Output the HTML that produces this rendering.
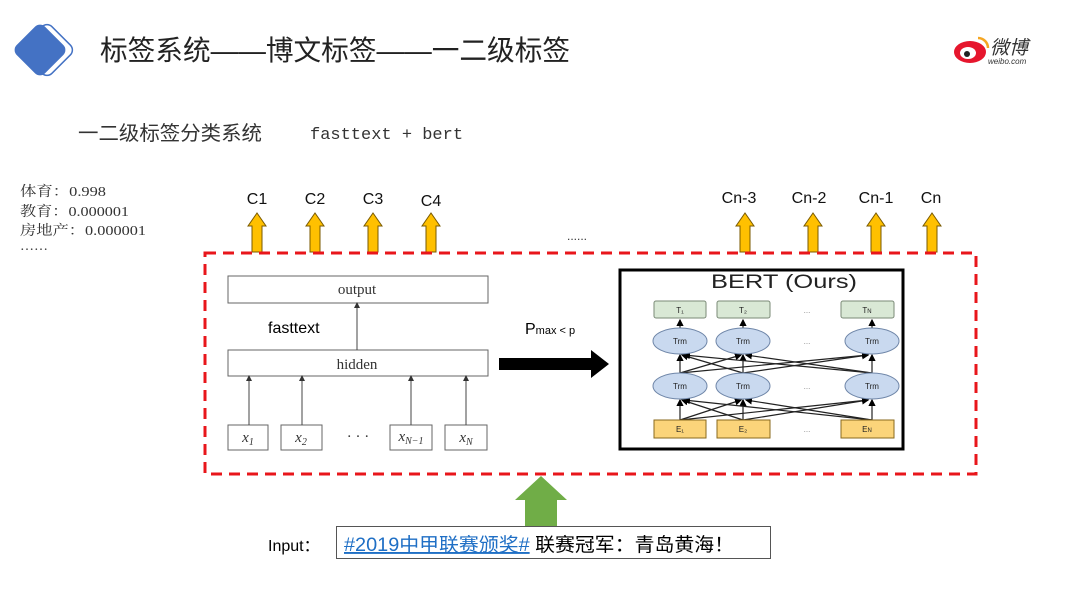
<!DOCTYPE html>
<html><head><meta charset="utf-8"><style>
body{margin:0;background:#fff;width:1080px;height:602px;overflow:hidden}
</style></head><body>
<svg width="1080" height="602" viewBox="0 0 1080 602" xmlns="http://www.w3.org/2000/svg">
<defs>
<marker id="sa" markerWidth="6" markerHeight="6" refX="3" refY="3" orient="auto"><path d="M0,0L6,3L0,6z" fill="#333"/></marker>
<marker id="ba" markerWidth="6" markerHeight="6" refX="5" refY="3" orient="auto"><path d="M0,0L6,3L0,6z" fill="#000"/></marker>
</defs>
<rect x="27" y="30" width="40" height="40" rx="7" transform="rotate(45 47 50)" fill="#fff" stroke="#4472c4" stroke-width="1.5"/>
<rect x="20" y="30" width="40" height="40" rx="7" transform="rotate(45 40 50)" fill="#4472c4"/>
<text x="100" y="60" font-family="Liberation Sans,'Noto Sans CJK SC',sans-serif" font-size="28" fill="#222" textLength="470" lengthAdjust="spacingAndGlyphs">标签系统——博文标签——一二级标签</text>
<ellipse cx="970" cy="52" rx="16" ry="11" fill="#e6162d"/>
<ellipse cx="968" cy="53" rx="8" ry="6" fill="#fff"/>
<circle cx="967" cy="54" r="3" fill="#222"/>
<path d="M978 38 a10 10 0 0 1 10 10" stroke="#f5a623" stroke-width="2.5" fill="none"/>
<text x="990" y="54" font-family="'Noto Sans CJK SC',sans-serif" font-size="19" font-style="italic" fill="#333">微博</text>
<text x="988" y="64" font-family="Liberation Sans,sans-serif" font-size="8" font-style="italic" fill="#333">weibo.com</text>
<text x="78" y="140" font-family="'Noto Sans CJK SC',sans-serif" font-size="20" fill="#333" textLength="184" lengthAdjust="spacingAndGlyphs">一二级标签分类系统</text>
<text x="310" y="139" font-family="Liberation Mono,monospace" font-size="17" fill="#333">fasttext + bert</text>
<g font-family="Liberation Serif,'Noto Serif CJK SC',serif" font-size="14" fill="#333">
<text x="20" y="196" textLength="86" lengthAdjust="spacingAndGlyphs">体育：0.998</text>
<text x="20" y="216" textLength="109" lengthAdjust="spacingAndGlyphs">教育：0.000001</text>
<text x="20" y="235" textLength="126" lengthAdjust="spacingAndGlyphs">房地产：0.000001</text>
<text x="20" y="250">……</text>
</g>
<g font-family="Liberation Sans,sans-serif" font-size="16" fill="#111" text-anchor="middle">
<text x="257" y="204">C1</text><text x="315" y="204">C2</text><text x="373" y="204">C3</text><text x="431" y="206">C4</text>
<text x="739" y="203">Cn-3</text><text x="809" y="203">Cn-2</text><text x="876" y="203">Cn-1</text><text x="931" y="203">Cn</text>
</g>
<text x="567" y="240" font-family="Liberation Sans,sans-serif" font-size="12" fill="#333">......</text>
<g fill="#ffc000" stroke="#7a5a00" stroke-width="1">
<path d="M252 252V226H248L257 213L266 226H262V252Z"/>
<path d="M310 252V226H306L315 213L324 226H320V252Z"/>
<path d="M368 252V226H364L373 213L382 226H378V252Z"/>
<path d="M426 252V226H422L431 213L440 226H436V252Z"/>
<path d="M740 252V226H736L745 213L754 226H750V252Z"/>
<path d="M808 252V226H804L813 213L822 226H818V252Z"/>
<path d="M871 252V226H867L876 213L885 226H881V252Z"/>
<path d="M927 252V226H923L932 213L941 226H937V252Z"/>
</g>
<rect x="205" y="253" width="771" height="221" fill="none" stroke="#e8161b" stroke-width="3" stroke-dasharray="11,7"/>
<g stroke="#666" fill="#fff" stroke-width="1">
<rect x="228" y="276" width="260" height="27"/>
<rect x="228" y="350" width="260" height="26"/>
<rect x="228" y="425" width="40" height="25"/><rect x="281" y="425" width="41" height="25"/>
<rect x="390" y="425" width="42" height="25"/><rect x="445" y="425" width="42" height="25"/>
</g>
<g stroke="#444" stroke-width="1" marker-end="url(#sa)">
<line x1="357" y1="350" x2="357" y2="305"/>
<line x1="249" y1="425" x2="249" y2="378"/><line x1="302" y1="425" x2="302" y2="378"/>
<line x1="411" y1="425" x2="411" y2="378"/><line x1="466" y1="425" x2="466" y2="378"/>
</g>
<g font-family="Liberation Serif,serif" font-size="15" fill="#333" text-anchor="middle">
<text x="357" y="294">output</text><text x="357" y="369">hidden</text>
<text x="248" y="442" font-style="italic">x<tspan font-size="10" dy="3">1</tspan></text>
<text x="301" y="442" font-style="italic">x<tspan font-size="10" dy="3">2</tspan></text>
<text x="358" y="441">· · ·</text>
<text x="411" y="441" font-style="italic">x<tspan font-size="10" dy="3">N−1</tspan></text>
<text x="466" y="442" font-style="italic">x<tspan font-size="10" dy="3">N</tspan></text>
</g>
<text x="268" y="333" font-family="Liberation Sans,sans-serif" font-size="16" fill="#000">fasttext</text>
<text x="525" y="334" font-family="Liberation Sans,sans-serif" font-size="16" fill="#000">P<tspan font-size="11">max &lt; p</tspan></text>
<path d="M499 358H591V350L609 364L591 378V370H499Z" fill="#000"/>
<rect x="620" y="270" width="283" height="179" fill="#fff" stroke="#000" stroke-width="3"/>
<text x="711" y="288" font-family="Liberation Sans,sans-serif" font-size="19" fill="#222" textLength="146" lengthAdjust="spacingAndGlyphs">BERT (Ours)</text>
<g stroke="#222" stroke-width="1.2" marker-end="url(#ba)">
<line x1="680" y1="420" x2="680" y2="400"/><line x1="743" y1="420" x2="743" y2="400"/><line x1="872" y1="420" x2="872" y2="400"/>
<line x1="680" y1="420" x2="741" y2="400"/><line x1="680" y1="420" x2="868" y2="400"/>
<line x1="743" y1="420" x2="682" y2="400"/><line x1="743" y1="420" x2="868" y2="400"/>
<line x1="872" y1="420" x2="684" y2="400"/><line x1="872" y1="420" x2="746" y2="400"/>
<line x1="680" y1="373" x2="680" y2="355"/><line x1="743" y1="373" x2="743" y2="355"/><line x1="872" y1="373" x2="872" y2="355"/>
<line x1="680" y1="373" x2="741" y2="355"/><line x1="680" y1="373" x2="868" y2="355"/>
<line x1="743" y1="373" x2="682" y2="355"/><line x1="743" y1="373" x2="868" y2="355"/>
<line x1="872" y1="373" x2="684" y2="355"/><line x1="872" y1="373" x2="746" y2="355"/>
<line x1="680" y1="328" x2="680" y2="320"/><line x1="743" y1="328" x2="743" y2="320"/><line x1="872" y1="328" x2="872" y2="320"/>
</g>
<g fill="#d9e8d5" stroke="#7a8a76"><rect x="654" y="301" width="52" height="17" rx="2"/><rect x="717" y="301" width="53" height="17" rx="2"/><rect x="841" y="301" width="53" height="17" rx="2"/></g>
<g fill="#c9d9ef" stroke="#6f86a8"><ellipse cx="680" cy="341" rx="27" ry="13"/><ellipse cx="743" cy="341" rx="27" ry="13"/><ellipse cx="872" cy="341" rx="27" ry="13"/>
<ellipse cx="680" cy="386" rx="27" ry="13"/><ellipse cx="743" cy="386" rx="27" ry="13"/><ellipse cx="872" cy="386" rx="27" ry="13"/></g>
<g fill="#fbd47a" stroke="#8a6a1e"><rect x="654" y="420" width="52" height="18"/><rect x="717" y="420" width="53" height="18"/><rect x="841" y="420" width="53" height="18"/></g>
<g font-family="Liberation Sans,sans-serif" font-size="8" fill="#222" text-anchor="middle">
<text x="680" y="313">T₁</text><text x="743" y="313">T₂</text><text x="867" y="313">T<tspan font-size="6">N</tspan></text>
<text x="680" y="344">Trm</text><text x="743" y="344">Trm</text><text x="872" y="344">Trm</text>
<text x="680" y="389">Trm</text><text x="743" y="389">Trm</text><text x="872" y="389">Trm</text>
<text x="680" y="432">E₁</text><text x="743" y="432">E₂</text><text x="867" y="432">E<tspan font-size="6">N</tspan></text>
<text x="807" y="313" fill="#888">...</text><text x="807" y="344" fill="#888">...</text><text x="807" y="389" fill="#888">...</text><text x="807" y="432" fill="#888">...</text>
</g>
<path d="M525 527V500H515L541 476L567 500H557V527Z" fill="#70ad47"/>
<text x="268" y="551" font-family="Liberation Sans,'Noto Sans CJK SC',sans-serif" font-size="16" fill="#000">Input：</text>
<rect x="336.5" y="526.5" width="434" height="32" fill="#fff" stroke="#555"/>
<text x="344" y="551" font-family="Liberation Sans,'Noto Sans CJK SC',sans-serif" font-size="19" textLength="390" lengthAdjust="spacingAndGlyphs"><tspan fill="#1f6fc5" text-decoration="underline">#2019中甲联赛颁奖#</tspan><tspan fill="#000"> 联赛冠军：青岛黄海！</tspan></text>
</svg>
</body></html>
